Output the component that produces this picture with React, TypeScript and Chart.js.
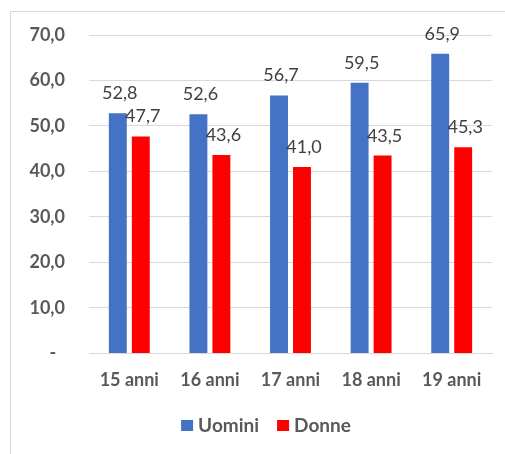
import React, { useEffect, useRef } from "react";
import { Chart, registerables } from "chart.js";

Chart.register(...registerables);

const categories = ["15 anni", "16 anni", "17 anni", "18 anni", "19 anni"];
const uomini = [52.8, 52.6, 56.7, 59.5, 65.9];
const donne = [47.7, 43.6, 41.0, 43.5, 45.3];
const seriesNames = ["Uomini", "Donne"];
const seriesColors = ["#4472C4", "#FF0000"];

const FONT = "Lato, 'Open Sans', sans-serif";

const fmt = (v: number) => v.toFixed(1).replace(".", ",");

const labelPlugin = {
  id: "barLabels",
  afterDatasetsDraw(chart: any) {
    const ctx = chart.ctx;
    ctx.save();
    ctx.font = `18px ${FONT}`;
    ctx.fillStyle = "#404040";
    ctx.textAlign = "center";
    ctx.textBaseline = "alphabetic";
    chart.data.datasets.forEach((ds: any, di: number) => {
      const meta = chart.getDatasetMeta(di);
      meta.data.forEach((bar: any, i: number) => {
        ctx.fillText(fmt(ds.data[i]), bar.x + 2, bar.y - 14);
      });
    });
    ctx.restore();
  },
};

// Legend drawn below the chart, centred on the (wider) chart object frame
const legendPlugin = {
  id: "bottomLegend",
  afterDraw(chart: any) {
    const ctx = chart.ctx;
    ctx.save();
    ctx.font = `bold 19px ${FONT}`;
    ctx.textBaseline = "middle";
    ctx.textAlign = "left";
    const box = 12;
    const gapText = 5;
    const gapItem = 18;
    const ds = chart.data.datasets;
    const widths = ds.map((d: any) => box + gapText + ctx.measureText(d.label).width);
    const total = widths.reduce((a: number, b: number) => a + b, 0) + gapItem * (ds.length - 1);
    const centerX = 266;
    const y = 426;
    let x = centerX - total / 2;
    ds.forEach((d: any, i: number) => {
      ctx.fillStyle = d.backgroundColor;
      ctx.fillRect(x, y - 6, box, 11);
      ctx.fillStyle = "#595959";
      ctx.fillText(d.label, x + box + gapText, y);
      x += widths[i] + gapItem;
    });
    ctx.restore();
  },
};

export default function App() {
  const ref = useRef<HTMLCanvasElement>(null);
  useEffect(() => {
    document.body.style.margin = "0";
    const chart = new Chart(ref.current!, {
      type: "bar",
      data: {
        labels: categories,
        datasets: [
          { label: seriesNames[0], data: uomini, backgroundColor: seriesColors[0] },
          { label: seriesNames[1], data: donne, backgroundColor: seriesColors[1] },
        ],
      },
      options: {
        animation: false,
        responsive: false,
        maintainAspectRatio: false,
        datasets: { bar: { categoryPercentage: 0.57, barPercentage: 0.78 } } as any,
        layout: { padding: { top: 35, right: 13, left: 0, bottom: 47 } },
        plugins: {
          legend: { display: false },
          tooltip: { enabled: false },
        },
        scales: {
          x: {
            grid: { display: false, drawTicks: false },
            border: { display: true, color: "#d9d9d9" },
            ticks: {
              padding: 16,
              color: "#595959",
              font: { family: FONT, size: 18, weight: "bold" },
            },
          },
          y: {
            min: 0,
            max: 70,
            afterFit: (s: any) => {
              s.width = 89;
            },
            grid: { color: "#d9d9d9", drawTicks: false },
            border: { display: false },
            ticks: {
              stepSize: 10,
              padding: 24,
              color: "#595959",
              font: { family: FONT, size: 18, weight: "bold" },
              callback: (v: any) => (Number(v) === 0 ? "-  " : fmt(Number(v))),
            },
          },
        },
      },
      plugins: [labelPlugin, legendPlugin],
    });
    return () => chart.destroy();
  }, []);
  return (
    <div style={{ position: "relative", width: 505, height: 454, background: "#fff", overflow: "hidden" }}>
      <div
        style={{
          position: "absolute",
          left: 10,
          top: 11,
          width: 600,
          height: 600,
          borderLeft: "1px solid #d9d9d9",
          borderTop: "1px solid #d9d9d9",
          pointerEvents: "none",
        }}
      />
      <canvas ref={ref} width={505} height={454} style={{ position: "absolute", left: 0, top: 0 }} />
    </div>
  );
}
